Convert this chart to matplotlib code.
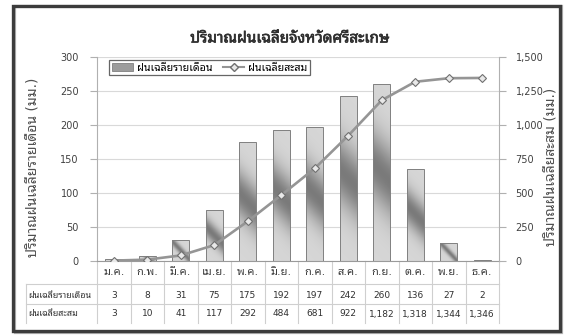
import matplotlib
matplotlib.use("Agg")
import matplotlib.pyplot as plt
import matplotlib.patheffects as pe
import numpy as np
from matplotlib.patches import Rectangle, Patch
from matplotlib.lines import Line2D
from matplotlib.ticker import FuncFormatter, MultipleLocator

plt.rcParams['font.family'] = ['DejaVu Sans', 'Noto Sans Thai Looped']

months = ['ม.ค.', 'ก.พ.', 'มี.ค.', 'เม.ย.', 'พ.ค.', 'มิ.ย.', 'ก.ค.', 'ส.ค.', 'ก.ย.', 'ต.ค.', 'พ.ย.', 'ธ.ค.']
monthly = [3, 8, 31, 75, 175, 192, 197, 242, 260, 136, 27, 2]
cumulative = [3, 10, 41, 117, 292, 484, 681, 922, 1182, 1318, 1344, 1346]
title = 'ปริมาณฝนเฉลี่ยจังหวัดศรีสะเกษ'
left_label = 'ปริมาณฝนเฉลี่ยรายเดือน (มม.)'
right_label = 'ปริมาณฝนเฉลี่ยสะสม (มม.)'
series1 = 'ฝนเฉลี่ยรายเดือน'
series2 = 'ฝนเฉลี่ยสะสม'

W, H = 567, 336
fig = plt.figure(figsize=(W / 100, H / 100), dpi=100)

def fx(px):
    return px / W

def fy(py):
    return 1 - py / H

# frame with shadow
fig.patches.append(Rectangle((fx(15), fy(333)), fx(547), 327 / H, transform=fig.transFigure,
                             fill=False, edgecolor='#b8b8b8', lw=1.6, zorder=0))
fig.patches.append(Rectangle((fx(13), fy(331)), fx(547), 325 / H, transform=fig.transFigure,
                             fill=False, edgecolor='#3c3c3c', lw=2.4, zorder=1))

L, R, T, B = 97, 499, 57, 261
ax = fig.add_axes([fx(L), fy(B), fx(R - L), (B - T) / H])
ax2 = ax.twinx()

x = np.arange(len(months))

# grid
ax.yaxis.set_major_locator(MultipleLocator(50))
ax2.yaxis.set_major_locator(MultipleLocator(250))
ax.grid(axis='y', color='#d9d9d9', lw=0.8)
ax.set_axisbelow(True)

# gradient bars
bars = ax.bar(x, monthly, width=0.5, facecolor='none', edgecolor='#808080', lw=0.7, zorder=3)
ny, nx = 80, 24
vv, uu = np.mgrid[0:1:ny * 1j, 0:1:nx * 1j]  # vv: 0 top -> 1 bottom
for b in bars:
    h = b.get_height()
    hp = max(h / 300 * (B - T), 1.0)
    # diagonal light-dark-light gradient (band slopes down to the right)
    t = vv - (uu - 0.5) * (17.0 / max(hp, 12.0)) * 1.0
    shade = 0.84 - 0.36 * np.exp(-((t - 0.5) / 0.2) ** 2)
    img = np.dstack([shade, shade, shade])
    x0 = b.get_x()
    im = ax.imshow(img, extent=(x0, x0 + b.get_width(), 0, h), aspect='auto',
                   origin='upper', zorder=2, interpolation='bilinear')
    im.set_clip_path(b)
ax.set_xlim(-0.5, len(months) - 0.5)
ax.set_ylim(0, 300)
ax2.set_ylim(0, 1500)

# cumulative line
ax2.plot(x, cumulative, color='#959595', lw=1.9, marker='D', markersize=4.4,
         markerfacecolor='#e8e8e8', markeredgecolor='#707070', markeredgewidth=0.8, zorder=4)

fmt = FuncFormatter(lambda v, p: f'{int(v):,}')
ax2.yaxis.set_major_formatter(fmt)

for a in (ax, ax2):
    for s in a.spines.values():
        s.set_visible(False)
ax.spines['left'].set_visible(True)
ax.spines['left'].set_color('#b0b0b0')
ax.spines['bottom'].set_visible(True)
ax.spines['bottom'].set_color('#9a9a9a')
ax2.spines['right'].set_visible(True)
ax2.spines['right'].set_color('#b0b0b0')

ax.tick_params(axis='y', length=5, width=0.8, color='#b0b0b0', labelsize=7, labelcolor='#404040', pad=8)
ax2.tick_params(axis='y', length=5, width=0.8, color='#b0b0b0', labelsize=7, labelcolor='#404040', pad=7)
ax.set_xticks(x, months)
ax.tick_params(axis='x', length=0, labelsize=8, labelcolor='#404040', pad=4)

# data table
tx = ax.get_xaxis_transform()
axh = B - T

def ay(py):
    return -(py - B) / axh

lc = '#cfcfcf'
for k in range(len(months) + 1):
    ax.plot([k - 0.5, k - 0.5], [0, ay(323)], transform=tx, color=lc, lw=0.8, clip_on=False, zorder=1)
xl = (26 - L) / (R - L)
for py in (284, 304):
    ax.plot([xl, 1], [ay(py), ay(py)], transform=ax.transAxes, color=lc, lw=0.8, clip_on=False)
ax.plot([xl, xl], [ay(284), ay(323)], transform=ax.transAxes, color=lc, lw=0.8, clip_on=False)

for row, vals, py in ((series1, monthly, 295), (series2, cumulative, 314)):
    ax.text(xl + 0.006, ay(py), row, transform=ax.transAxes, fontsize=6.4, color='#303030',
            ha='left', va='center')
    for i, v in enumerate(vals):
        ax.text(i, ay(py), f'{v:,}', transform=tx, fontsize=6.5, color='#303030',
                ha='center', va='center')

# labels & title
fig.text(fx(290), fy(38), title, fontsize=11, color='#303030', ha='center', va='center',
         path_effects=[pe.withStroke(linewidth=0.45, foreground='#303030')])
fig.text(fx(33), fy(167), left_label, rotation=90, fontsize=10, color='#505050',
         ha='center', va='center')
fig.text(fx(551), fy(167), right_label, rotation=90, fontsize=10, color='#505050',
         ha='center', va='center')

# legend
handles = [Patch(facecolor='#9c9c9c', edgecolor='#808080', lw=0.6),
           Line2D([], [], color='#959595', lw=1.5, marker='D', markersize=3.6,
                  markerfacecolor='#e8e8e8', markeredgecolor='#707070')]
leg = ax2.legend(handles, [series1, series2], loc='upper left', ncol=2,
                 bbox_to_anchor=(fx(109), fy(60)), bbox_transform=fig.transFigure,
                 fontsize=7.6, frameon=True, fancybox=False, edgecolor='#404040',
                 borderpad=0.25, handlelength=2.0, handleheight=0.9, handletextpad=0.4,
                 columnspacing=1.0, borderaxespad=0)
leg.get_frame().set_linewidth(0.9)

fig.savefig('out.png', dpi=100)
